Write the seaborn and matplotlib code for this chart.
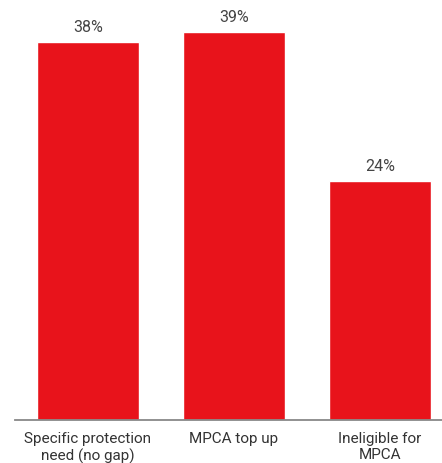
import matplotlib
matplotlib.use("Agg")
import matplotlib.pyplot as plt
import seaborn as sns
import pandas as pd

categories = ["Specific protection\nneed (no gap)", "MPCA top up", "Ineligible for\nMPCA"]
values = [38, 39, 24]

sns.set_style("white")
plt.rcParams["font.family"] = ["Roboto", "DejaVu Sans"]

df = pd.DataFrame({"category": categories, "value": values})

fig = plt.figure(figsize=(4.42, 4.64), dpi=100)
W, H = 442, 464
ax = fig.add_axes([15 / W, (H - 421) / H, (442 - 15) / W, 421 / H])

sns.barplot(data=df, x="category", y="value", color="#E8131B", width=0.7,
            saturation=1, ax=ax)

ax.set_xlim(-0.5, 2.425)
ax.set_ylim(0, 42.35)

for i, v in enumerate(values):
    ax.text(i, v + 0.85, f"{v}%", ha="center", va="bottom",
            fontsize=11.5, color="#444444")

ax.set_xlabel("")
ax.set_ylabel("")
ax.set_yticks([])
ax.tick_params(axis="x", length=0, pad=8, labelsize=11, labelcolor="#333333")
for s in ["top", "left", "right"]:
    ax.spines[s].set_visible(False)
ax.spines["bottom"].set_color("#888888")
ax.spines["bottom"].set_linewidth(1.3)

fig.savefig("out.png", dpi=100)
